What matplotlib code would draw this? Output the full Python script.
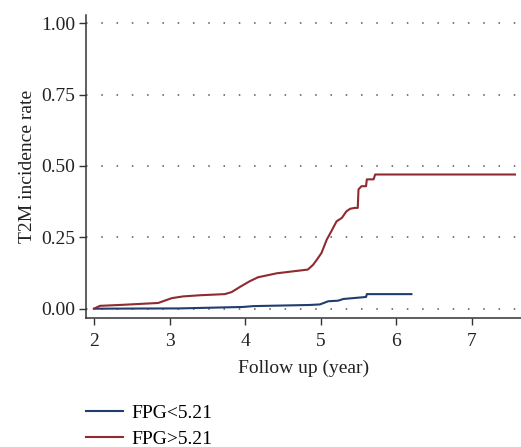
import matplotlib
matplotlib.use("Agg")
import matplotlib.pyplot as plt
import numpy as np

# data (step-like cumulative incidence)
low_x = [2.00, 3.14, 3.97, 4.11, 4.86, 4.99, 5.10, 5.23, 5.30, 5.60, 5.61, 6.20]
low_y = [0.000, 0.001, 0.006, 0.009, 0.013, 0.015, 0.026, 0.028, 0.034, 0.041, 0.051, 0.051]

high_x = [2.00, 2.08, 2.34, 2.85, 3.03, 3.18, 3.40, 3.73, 3.82, 3.93, 4.06, 4.17,
          4.42, 4.64, 4.83, 4.90, 4.95, 5.01, 5.08, 5.14, 5.21, 5.28, 5.34, 5.39,
          5.45, 5.49, 5.50, 5.54, 5.60, 5.61, 5.70, 5.72, 7.57]
high_y = [0.000, 0.010, 0.013, 0.020, 0.037, 0.043, 0.047, 0.051, 0.058, 0.076, 0.096, 0.110,
          0.124, 0.131, 0.137, 0.154, 0.172, 0.195, 0.242, 0.271, 0.306, 0.318, 0.341, 0.350,
          0.353, 0.353, 0.418, 0.429, 0.429, 0.453, 0.453, 0.470, 0.470]

labels = ["FPG<5.21", "FPG>5.21"]
colors = ["#1f3d6d", "#8e2a30"]
yticks = [0.0, 0.25, 0.5, 0.75, 1.0]
xticks = [2, 3, 4, 5, 6, 7]

plt.rcParams["font.family"] = ["Liberation Serif", "DejaVu Serif"]
fs = 14

fig = plt.figure(figsize=(5.21, 4.47), dpi=100)
ax = fig.add_axes([0.165, 0.289, 0.835, 0.677])

for v in yticks:
    ax.axhline(v, color="#555555", lw=1.1, ls=(0, (1, 9)), zorder=0)

ax.plot(low_x, low_y, color=colors[0], lw=1.5, label=labels[0])
ax.plot(high_x, high_y, color=colors[1], lw=1.5, label=labels[1])

ax.set_xlim(1.894, 7.65)
ax.set_ylim(-0.032, 1.028)
ax.set_xticks(xticks)
ax.set_yticks(yticks)
ax.set_yticklabels(["%.2f" % v for v in yticks])
ax.tick_params(labelsize=fs, length=5, width=1, color="#333333", labelcolor="#222222")
ax.tick_params(axis="x", pad=6)
ax.tick_params(axis="y", pad=2.5)
for s in ["top", "right"]:
    ax.spines[s].set_visible(False)
for s in ["left", "bottom"]:
    ax.spines[s].set_color("#333333")
    ax.spines[s].set_linewidth(1.1)

ax.set_xlabel("Follow up (year)", fontsize=fs, color="#222222", labelpad=7)
ax.set_ylabel("T2M incidence rate", fontsize=fs, color="#222222", labelpad=4)

fig.legend(loc="upper left", bbox_to_anchor=(0.15, 0.113), frameon=False,
           fontsize=fs, handlelength=1.9, handletextpad=0.45, labelspacing=0.42,
           borderaxespad=0)

fig.savefig("out.png", dpi=100)
